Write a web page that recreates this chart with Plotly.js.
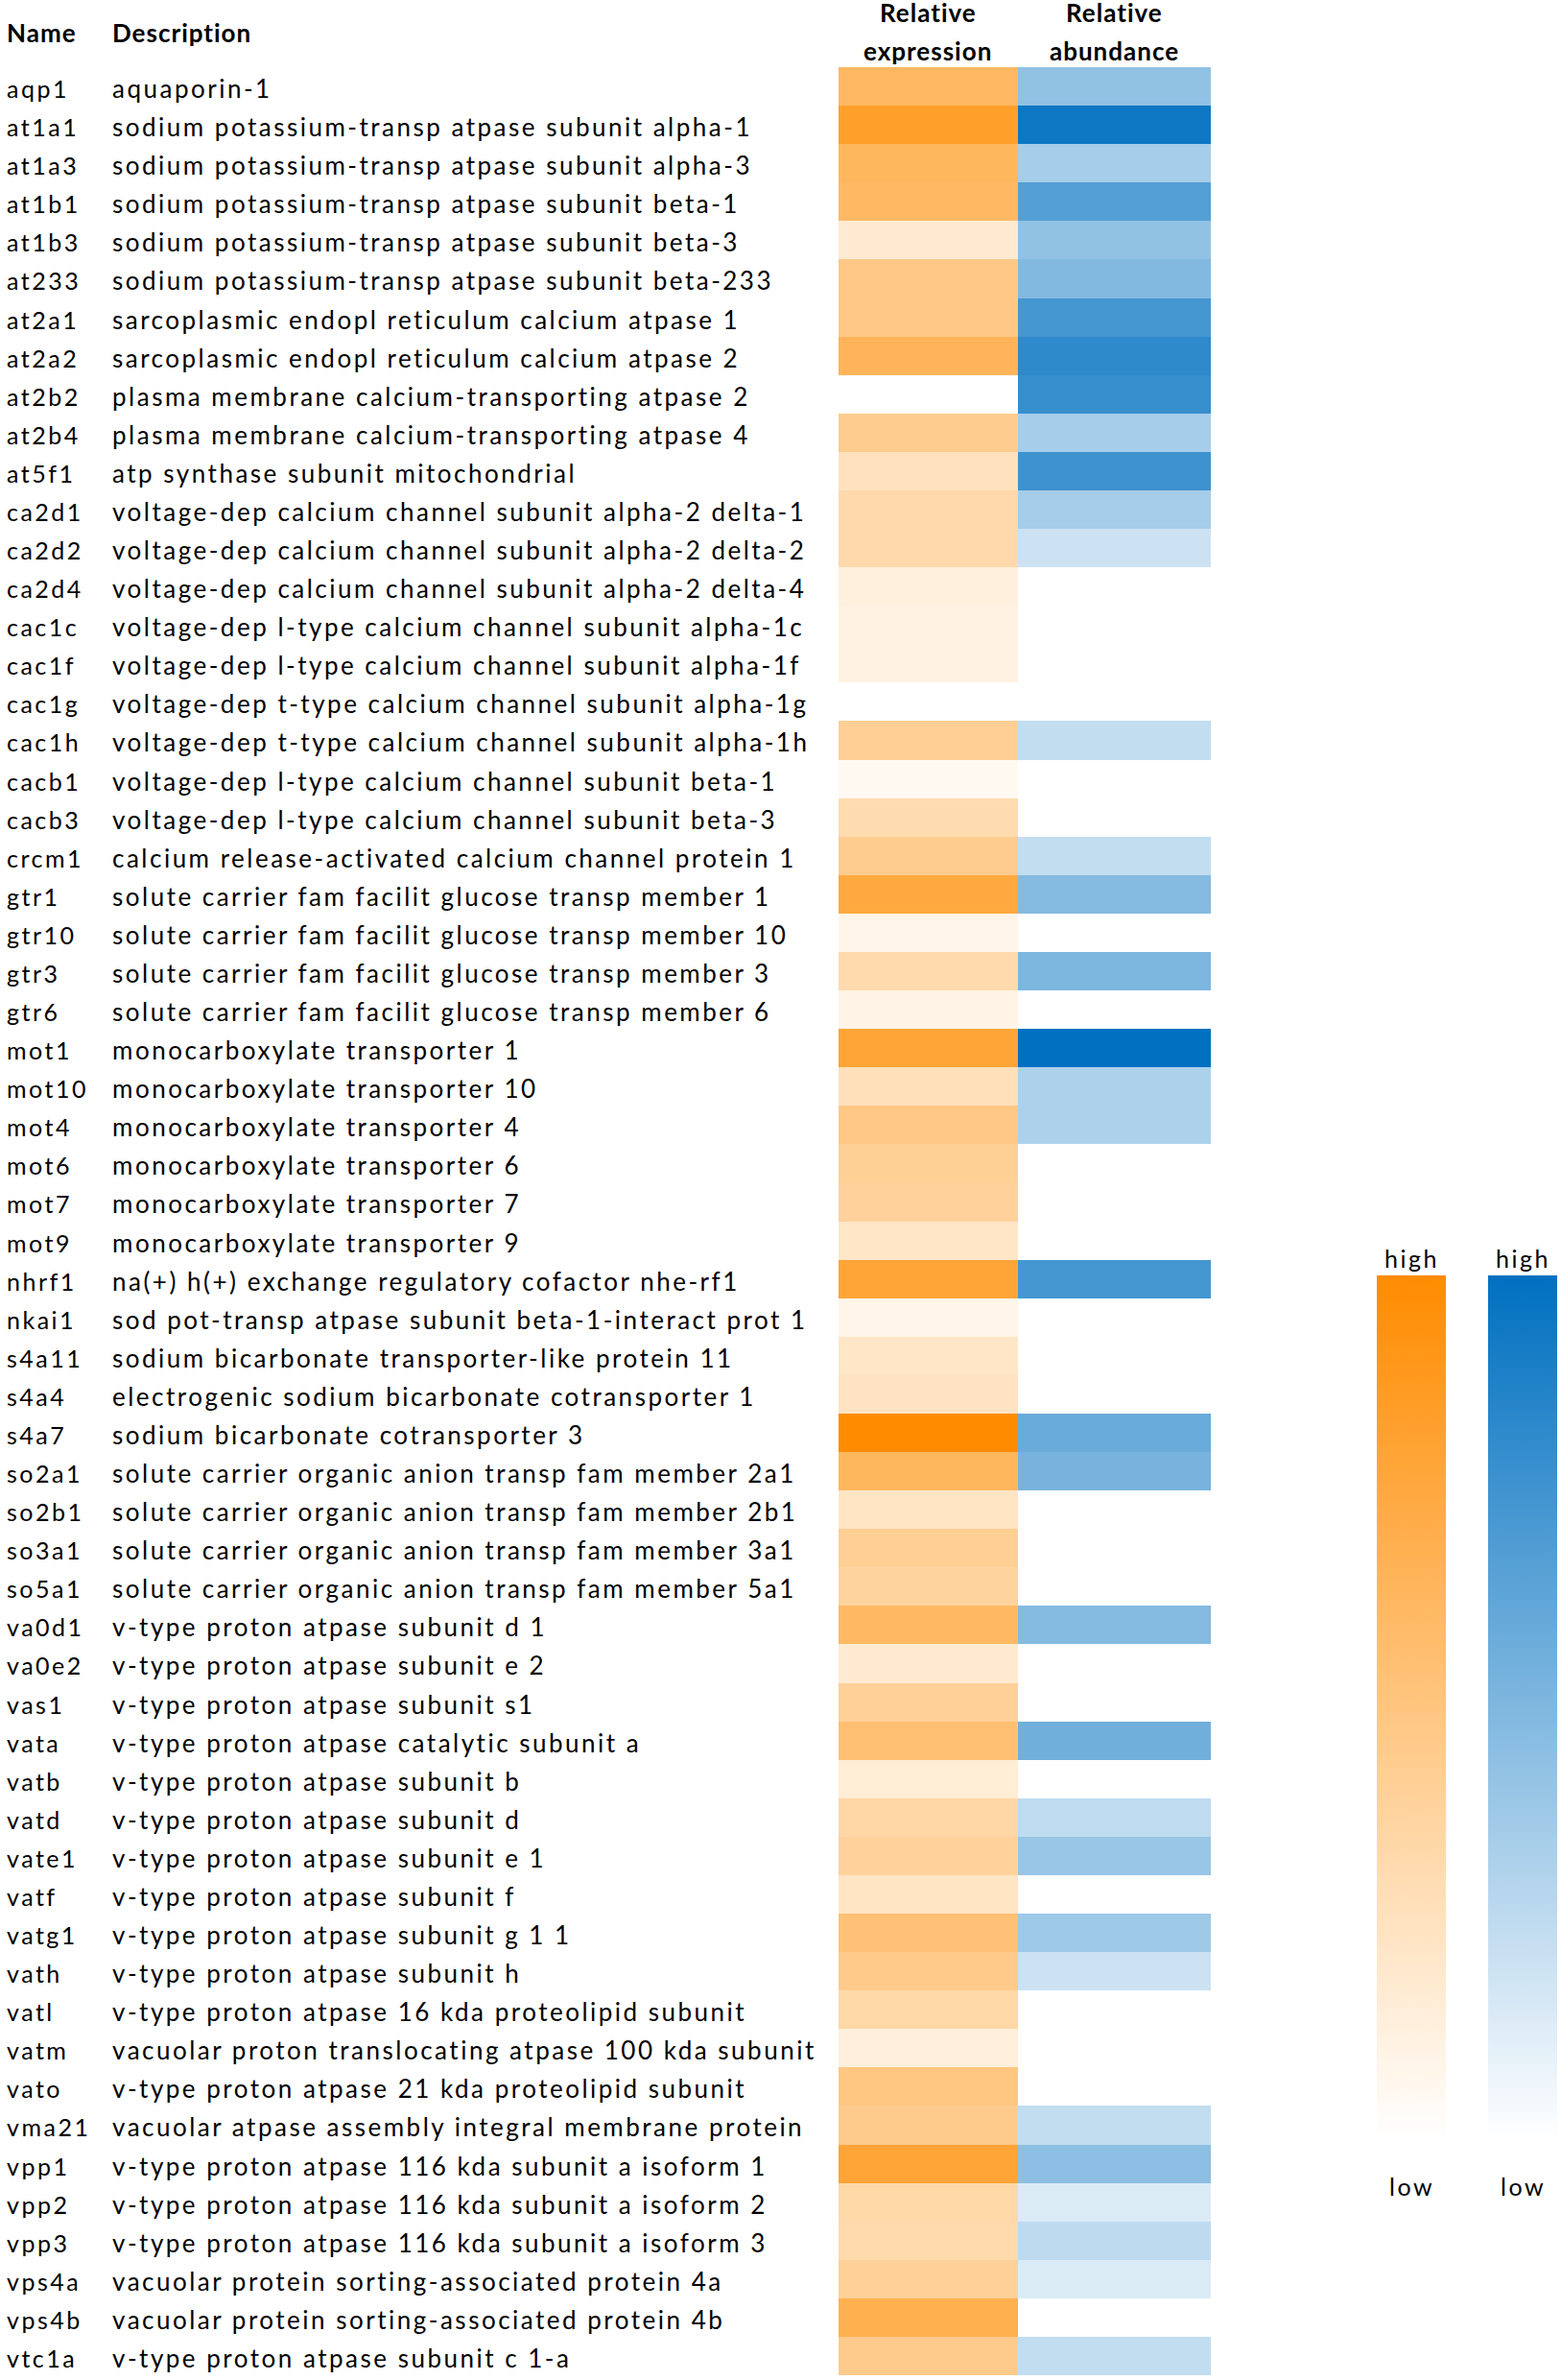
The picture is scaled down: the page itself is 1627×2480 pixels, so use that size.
<!DOCTYPE html>
<html><head><meta charset="utf-8">
<script src="https://cdn.plot.ly/plotly-3.0.1.min.js"></script>
<style>
html,body{margin:0;padding:0;background:#fff;}
#chart{width:1627px;height:2480px;}
svg text{letter-spacing:2.5px;}
svg text[style*="font-weight: 700"],svg text[style*="font-weight:700"]{letter-spacing:1px;}
</style></head><body><div id="chart"></div><script>
const names = ["aqp1","at1a1","at1a3","at1b1","at1b3","at233","at2a1","at2a2","at2b2","at2b4","at5f1","ca2d1","ca2d2","ca2d4","cac1c","cac1f","cac1g","cac1h","cacb1","cacb3","crcm1","gtr1","gtr10","gtr3","gtr6","mot1","mot10","mot4","mot6","mot7","mot9","nhrf1","nkai1","s4a11","s4a4","s4a7","so2a1","so2b1","so3a1","so5a1","va0d1","va0e2","vas1","vata","vatb","vatd","vate1","vatf","vatg1","vath","vatl","vatm","vato","vma21","vpp1","vpp2","vpp3","vps4a","vps4b","vtc1a"];
const descriptions = [
"aquaporin-1",
"sodium potassium-transp atpase subunit alpha-1",
"sodium potassium-transp atpase subunit alpha-3",
"sodium potassium-transp atpase subunit beta-1",
"sodium potassium-transp atpase subunit beta-3",
"sodium potassium-transp atpase subunit beta-233",
"sarcoplasmic endopl reticulum calcium atpase 1",
"sarcoplasmic endopl reticulum calcium atpase 2",
"plasma membrane calcium-transporting atpase 2",
"plasma membrane calcium-transporting atpase 4",
"atp synthase subunit mitochondrial",
"voltage-dep calcium channel subunit alpha-2 delta-1",
"voltage-dep calcium channel subunit alpha-2 delta-2",
"voltage-dep calcium channel subunit alpha-2 delta-4",
"voltage-dep l-type calcium channel subunit alpha-1c",
"voltage-dep l-type calcium channel subunit alpha-1f",
"voltage-dep t-type calcium channel subunit alpha-1g",
"voltage-dep t-type calcium channel subunit alpha-1h",
"voltage-dep l-type calcium channel subunit beta-1",
"voltage-dep l-type calcium channel subunit beta-3",
"calcium release-activated calcium channel protein 1",
"solute carrier fam facilit glucose transp member 1",
"solute carrier fam facilit glucose transp member 10",
"solute carrier fam facilit glucose transp member 3",
"solute carrier fam facilit glucose transp member 6",
"monocarboxylate transporter 1",
"monocarboxylate transporter 10",
"monocarboxylate transporter 4",
"monocarboxylate transporter 6",
"monocarboxylate transporter 7",
"monocarboxylate transporter 9",
"na(+) h(+) exchange regulatory cofactor nhe-rf1",
"sod pot-transp atpase subunit beta-1-interact prot 1",
"sodium bicarbonate transporter-like protein 11",
"electrogenic sodium bicarbonate cotransporter 1",
"sodium bicarbonate cotransporter 3",
"solute carrier organic anion transp fam member 2a1",
"solute carrier organic anion transp fam member 2b1",
"solute carrier organic anion transp fam member 3a1",
"solute carrier organic anion transp fam member 5a1",
"v-type proton atpase subunit d 1",
"v-type proton atpase subunit e 2",
"v-type proton atpase subunit s1",
"v-type proton atpase catalytic subunit a",
"v-type proton atpase subunit b",
"v-type proton atpase subunit d",
"v-type proton atpase subunit e 1",
"v-type proton atpase subunit f",
"v-type proton atpase subunit g 1 1",
"v-type proton atpase subunit h",
"v-type proton atpase 16 kda proteolipid subunit",
"vacuolar proton translocating atpase 100 kda subunit",
"v-type proton atpase 21 kda proteolipid subunit",
"vacuolar atpase assembly integral membrane protein",
"v-type proton atpase 116 kda subunit a isoform 1",
"v-type proton atpase 116 kda subunit a isoform 2",
"v-type proton atpase 116 kda subunit a isoform 3",
"vacuolar protein sorting-associated protein 4a",
"vacuolar protein sorting-associated protein 4b",
"v-type proton atpase subunit c 1-a"];
const expression = [0.62,0.83,0.63,0.61,0.18,0.48,0.48,0.65,null,0.44,
0.26,0.33,0.33,0.13,0.11,0.11,null,0.42,0.05,0.31,
0.44,0.75,0.09,0.32,0.10,0.78,0.27,0.48,0.41,0.39,
0.22,0.78,0.09,0.22,0.24,1.00,0.63,0.23,0.42,0.38,
0.61,0.18,0.40,0.55,0.16,0.35,0.39,0.23,0.54,0.46,
0.34,0.14,0.49,0.45,0.79,0.34,0.32,0.40,0.69,0.45];
const abundance = [0.43,0.95,0.35,0.67,0.43,0.49,0.73,0.82,0.79,0.35,
0.76,0.35,0.20,null,null,null,null,0.24,null,null,
0.24,0.48,null,0.51,null,1.00,0.32,0.32,null,null,
null,0.73,null,null,null,0.59,0.53,null,null,null,
0.48,null,null,0.56,null,0.25,0.40,null,0.38,0.20,
null,null,null,0.24,0.45,0.14,0.26,0.14,null,0.24];
const columnTitles = [["Relative","expression"],["Relative","abundance"]];
const headers = ["Name","Description"];
const legendLabels = ["high","low"];

const W = 1627, H = 2480, T = 70, B = 5, plotH = H - T - B;
const px = p => p / W;
const py = p => (H - B - p) / plotH;

const orangeScale = [[0,"#FFFFFF"],[1,"#FF8C00"]];
const blueScale = [[0,"#FFFFFF"],[1,"#0070C0"]];

const cb = (xpx) => ({x: px(xpx), xanchor: "left", xpad: 0, y: py(1329), yanchor: "top", ypad: 0,
  thickness: 72, thicknessmode: "pixels", len: 901, lenmode: "pixels",
  outlinewidth: 0, showticklabels: false, ticks: ""});

const traces = [
 {type: "heatmap", x: ["expr"], y: names, z: expression.map(v => [v]), xaxis: "x", yaxis: "y",
  colorscale: orangeScale, zmin: 0, zmax: 1, colorbar: cb(1435), hoverongaps: false},
 {type: "heatmap", x: ["abund"], y: names, z: abundance.map(v => [v]), xaxis: "x2", yaxis: "y",
  colorscale: blueScale, zmin: 0, zmax: 1, colorbar: cb(1551), hoverongaps: false}
];

const hdrFont = {family: "Lato", size: 26, color: "#000", weight: 700};
const nameFont = {family: "Lato", size: 25, color: "#000"};
const rowFont = {family: "Lato", size: 26, color: "#000"};
const ann = [];
ann.push({text: headers[0], x: px(5), y: py(34), xanchor: "left", yanchor: "middle", font: hdrFont});
ann.push({text: headers[1], x: px(115), y: py(34), xanchor: "left", yanchor: "middle", font: hdrFont});
[967, 1161].forEach((cx, i) => {
  ann.push({text: columnTitles[i][0], x: px(cx), y: py(13), xanchor: "center", yanchor: "middle", font: hdrFont});
  ann.push({text: columnTitles[i][1], x: px(cx), y: py(53), xanchor: "center", yanchor: "middle", font: hdrFont});
});
[1471, 1587].forEach(cx => ann.push({text: legendLabels[0], x: px(cx), y: py(1311), xanchor: "center", yanchor: "middle", font: {family: "Lato", size: 25, color: "#000"}}));
[1471, 1587].forEach(cx => ann.push({text: legendLabels[1], x: px(cx), y: py(2278), xanchor: "center", yanchor: "middle", font: {family: "Lato", size: 25, color: "#000"}}));
ann.forEach(a => { a.xref = "paper"; a.yref = "paper"; a.showarrow = false; });
names.forEach((n, i) => {
  ann.push({text: n, x: px(5), xref: "paper", y: n, yref: "y", yshift: -2, xanchor: "left", yanchor: "middle", showarrow: false, font: nameFont});
  ann.push({text: descriptions[i], x: px(115), xref: "paper", y: n, yref: "y", yshift: -2, xanchor: "left", yanchor: "middle", showarrow: false, font: rowFont});
});

const hidden = {showticklabels: false, showgrid: false, zeroline: false, ticks: "", showline: false};
const layout = {
  width: W, height: H, margin: {l: 0, r: 0, t: T, b: B, pad: 0},
  paper_bgcolor: "#fff", plot_bgcolor: "#fff", showlegend: false,
  xaxis: Object.assign({domain: [px(874), px(1061)], anchor: "y"}, hidden),
  xaxis2: Object.assign({domain: [px(1061), px(1262)], anchor: "y"}, hidden),
  yaxis: Object.assign({type: "category", autorange: "reversed", anchor: "x"}, hidden),
  annotations: ann
};
Plotly.newPlot("chart", traces, layout, {displayModeBar: false, staticPlot: true});
</script></body></html>
